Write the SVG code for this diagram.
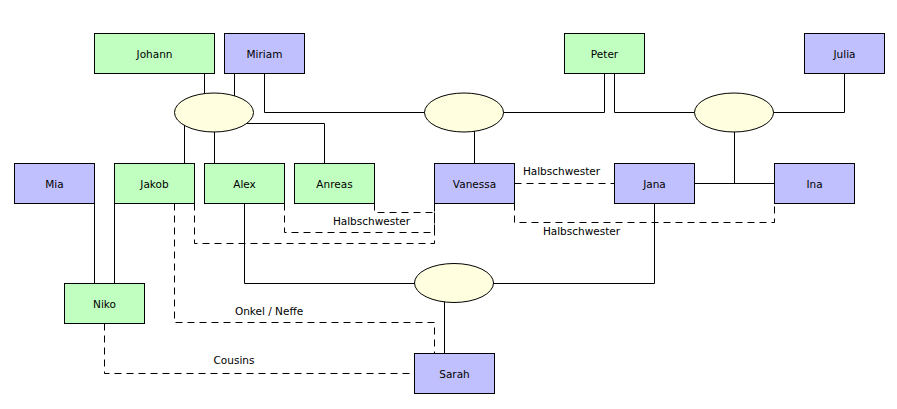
<svg xmlns="http://www.w3.org/2000/svg" width="897" height="409" viewBox="0 0 897 409">
<style>
.m rect{fill:#c0ffc0;stroke:#000;stroke-width:1}
.f rect{fill:#c0c0ff;stroke:#000;stroke-width:1}
.u ellipse{fill:#ffffe0;stroke:#000;stroke-width:1}
text{font-family:"DejaVu Sans",Verdana,sans-serif;font-size:10.5px;fill:#000;text-anchor:middle}
.c path{fill:none;stroke:#000;stroke-width:1}
.c .d{stroke-dasharray:7,5}
</style>
<rect width="897" height="409" fill="#fff"/>
<g id="connectors" class="c">
<path d="M204.5,73.5V112.5"/>
<path d="M234.5,73.5V112.5"/>
<path d="M264.5,73.5V112.5H464"/>
<path d="M214,123.5H324.5V163.5"/>
<path d="M184.5,112.5V163.5"/>
<path d="M214.5,112.5V163.5"/>
<path d="M604.5,73.5V112.5H464"/>
<path d="M614.5,73.5V112.5H734"/>
<path d="M844.5,73.5V112.5H734"/>
<path d="M474.5,112.5V163.5"/>
<path d="M734.5,112.5V183.5"/>
<path d="M694.5,183.5H774.5"/>
<path d="M94.5,203.5V283.5"/>
<path d="M114.5,203.5V283.5"/>
<path d="M244.5,203.5V283.5H454"/>
<path d="M654.5,203.5V283.5H454"/>
<path d="M444.5,283V353.5"/>
<path class="d" d="M514.5,183.5H614.5"/>
<path class="d" d="M514.5,203.5V222.5H774.5V203.5"/>
<path class="d" d="M374.5,203.5V212.5H434.5V203.5"/>
<path class="d" d="M284.5,203.5V232.5H434.5V203.5"/>
<path class="d" d="M194.5,203.5V243.5H434.5V203.5"/>
<path class="d" d="M174.5,203.5V322.5H434.5V353.5"/>
<path class="d" d="M104.5,323.5V373.5H414.5"/>
<text x="371.5" y="224.5">Halbschwester</text>
<text x="561.5" y="174.5">Halbschwester</text>
<text x="581.5" y="234.5">Halbschwester</text>
<text x="269" y="314.5">Onkel / Neffe</text>
<text x="234" y="364">Cousins</text>
</g>
<g id="u1" class="u"><ellipse cx="214" cy="112.5" rx="39.5" ry="19.5"/></g>
<g id="u2" class="u"><ellipse cx="464" cy="112.5" rx="39.5" ry="19.5"/></g>
<g id="u3" class="u"><ellipse cx="734" cy="112.5" rx="39.5" ry="19.5"/></g>
<g id="u4" class="u"><ellipse cx="454" cy="283" rx="39.5" ry="19.5"/></g>
<g id="johann" class="m"><rect x="94.5" y="33.5" width="120" height="40"/><text x="154.5" y="57.5">Johann</text></g>
<g id="miriam" class="f"><rect x="224.5" y="33.5" width="80" height="40"/><text x="264.5" y="57.5">Miriam</text></g>
<g id="peter" class="m"><rect x="564.5" y="33.5" width="80" height="40"/><text x="604.5" y="57.5">Peter</text></g>
<g id="julia" class="f"><rect x="804.5" y="33.5" width="80" height="40"/><text x="844.5" y="57.5">Julia</text></g>
<g id="mia" class="f"><rect x="14.5" y="163.5" width="80" height="40"/><text x="54.5" y="187.5">Mia</text></g>
<g id="jakob" class="m"><rect x="114.5" y="163.5" width="80" height="40"/><text x="154.5" y="187.5">Jakob</text></g>
<g id="alex" class="m"><rect x="204.5" y="163.5" width="80" height="40"/><text x="244.5" y="187.5">Alex</text></g>
<g id="anreas" class="m"><rect x="294.5" y="163.5" width="80" height="40"/><text x="334.5" y="187.5">Anreas</text></g>
<g id="vanessa" class="f"><rect x="434.5" y="163.5" width="80" height="40"/><text x="474.5" y="187.5">Vanessa</text></g>
<g id="jana" class="f"><rect x="614.5" y="163.5" width="80" height="40"/><text x="654.5" y="187.5">Jana</text></g>
<g id="ina" class="f"><rect x="774.5" y="163.5" width="80" height="40"/><text x="814.5" y="187.5">Ina</text></g>
<g id="niko" class="m"><rect x="64.5" y="283.5" width="80" height="40"/><text x="104.5" y="307.5">Niko</text></g>
<g id="sarah" class="f"><rect x="414.5" y="353.5" width="80" height="40"/><text x="454.5" y="377.5">Sarah</text></g>
</svg>
